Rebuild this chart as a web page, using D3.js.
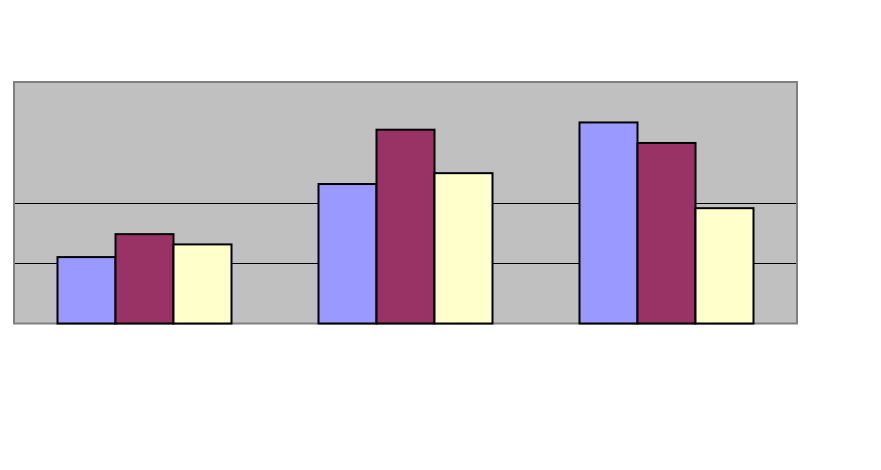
<!DOCTYPE html>
<html>
<head>
<meta charset="utf-8">
<script src="https://cdn.jsdelivr.net/npm/d3@7"></script>
<style>
  html, body { margin: 0; padding: 0; background: #fff; }
  svg { display: block; }
</style>
</head>
<body>
<script>
// data (no labels are shown in the reference)
const categories = ['A', 'B', 'C'];
const seriesNames = ['Series 1', 'Series 2', 'Series 3'];
const series1 = [1.10, 2.31, 3.33];
const series2 = [1.48, 3.21, 2.99];
const series3 = [1.31, 2.49, 1.91];
const gridTicks = [1, 2];

const colors = ['#9999FF', '#993366', '#FFFFCC'];

const width = 881;
const height = 470;
const plot = { l: 14, r: 797, t: 82, b: 323.5 };

const svg = d3.select('body').
append('svg').
attr('width', width).
attr('height', height);

const x0 = d3.scaleBand().
domain(categories).
range([plot.l, plot.r]);

// bars take the middle two thirds of each band (gap = half a bar on each side)
const x1 = d3.scaleBand().
domain(seriesNames).
range([x0.bandwidth() / 6, x0.bandwidth() * 5 / 6]);

const y = d3.scaleLinear().
domain([0, 4]).
range([plot.b, plot.t]);

const color = d3.scaleOrdinal().domain(seriesNames).range(colors);

// plot area background
svg.append('rect').
attr('x', plot.l).
attr('y', plot.t).
attr('width', plot.r - plot.l).
attr('height', plot.b - plot.t).
style('fill', '#C0C0C0');

// gridlines
const yGrid = d3.axisLeft(y).
tickValues(gridTicks).
tickSize(-(plot.r - plot.l)).
tickFormat('');

const grid = svg.append('g').
attr('transform', 'translate(' + plot.l + ',0)').
call(yGrid);
grid.select('.domain').remove();
grid.selectAll('.tick line').
attr('stroke', '#000').
attr('stroke-width', 1).
attr('shape-rendering', 'crispEdges');

// border
svg.append('rect').
attr('x', plot.l).
attr('y', plot.t).
attr('width', plot.r - plot.l).
attr('height', plot.b - plot.t).
style('fill', 'none').
style('stroke', '#808080').
style('stroke-width', 2);

const rows = categories.map((c, i) => ({
  cat: c,
  values: [series1[i], series2[i], series3[i]].map((v, j) => ({ key: seriesNames[j], value: v })) }));

const groups = svg.selectAll('.group').
data(rows).
enter().
append('g').
attr('class', 'group').
attr('transform', d => 'translate(' + x0(d.cat) + ',0)');

groups.selectAll('rect').
data(d => d.values).
enter().
append('rect').
attr('x', d => x1(d.key)).
attr('y', d => y(d.value)).
attr('width', x1.bandwidth()).
attr('height', d => y(0) - y(d.value)).
style('fill', d => color(d.key)).
style('stroke', '#000').
style('stroke-width', 2);
</script>
</body>
</html>
